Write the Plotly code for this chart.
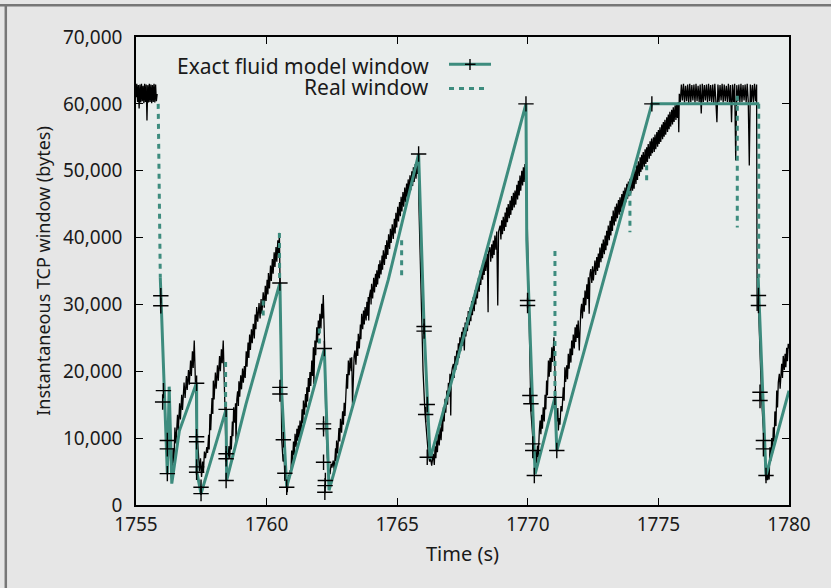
import plotly.graph_objects as go

# ---------------- data ----------------
# Measured (real) TCP window samples, black trace: (time s, bytes)
seg_start = [(1755.00, 61000), (1755.03, 63000), (1755.06, 60300), (1755.09, 62800), (1755.12, 59300),
             (1755.15, 62900), (1755.18, 60200), (1755.21, 63000), (1755.24, 60400), (1755.27, 62700),
             (1755.30, 60100), (1755.33, 63000), (1755.36, 60300), (1755.39, 62900), (1755.42, 57500),
             (1755.45, 62800), (1755.48, 60200), (1755.51, 63000), (1755.54, 60300), (1755.57, 62900),
             (1755.60, 60100), (1755.63, 62800), (1755.66, 60300), (1755.69, 63000), (1755.72, 60200),
             (1755.75, 62900), (1755.78, 60400), (1755.81, 61500)]

seg_1 = [(1756.28, 10000), (1756.36, 4000), (1756.42, 8500), (1756.45, 6200), (1756.49, 11600),
         (1756.53, 9200), (1756.59, 13500), (1756.62, 11200), (1756.67, 15200), (1756.70, 12800),
         (1756.75, 16500), (1756.78, 14200), (1756.84, 18300), (1756.88, 16000), (1756.93, 19300),
         (1756.96, 17200), (1757.01, 20200), (1757.04, 18000), (1757.09, 21600), (1757.12, 19300),
         (1757.16, 23000), (1757.19, 20500), (1757.23, 24600), (1757.28, 18100), (1757.32, 12000),
         (1757.39, 7700), (1757.43, 5000), (1757.47, 7000), (1757.51, 4200), (1757.55, 6500),
         (1757.58, 4800), (1757.62, 8000), (1757.66, 7000), (1757.71, 8650)]

seg_2 = [(1757.74, 7800), (1757.78, 10500), (1757.80, 8300), (1757.83, 13600), (1757.86, 11200),
         (1757.91, 16000), (1757.94, 13600), (1757.96, 18600), (1757.99, 15800), (1758.04, 19800),
         (1758.07, 17400), (1758.12, 20900), (1758.15, 18600), (1758.20, 22300), (1758.23, 20000),
         (1758.27, 23300), (1758.30, 21200), (1758.34, 24600), (1758.39, 16000), (1758.45, 7500),
         (1758.48, 6800)]

seg_3 = [(1758.52, 6900), (1758.56, 8800), (1758.59, 7000), (1758.62, 10300), (1758.65, 8300),
         (1758.69, 12500), (1758.71, 10300), (1758.74, 14600), (1758.78, 12300), (1758.81, 15200),
         (1758.83, 8900), (1758.86, 15800), (1758.89, 17000), (1758.92, 14800), (1758.94, 18500),
         (1758.97, 16200), (1759.01, 19400), (1759.04, 17300), (1759.08, 20400), (1759.11, 18300),
         (1759.15, 20800), (1759.18, 19000), (1759.22, 23000), (1759.25, 20700), (1759.29, 24300),
         (1759.32, 22000), (1759.35, 25500), (1759.38, 23200), (1759.42, 26300), (1759.45, 24200),
         (1759.49, 27100), (1759.53, 24900), (1759.56, 28500), (1759.59, 26300), (1759.62, 29600),
         (1759.66, 27400), (1759.71, 30200), (1759.75, 27900), (1759.79, 30800), (1759.82, 28600),
         (1759.87, 31800), (1759.91, 29500), (1759.95, 32800), (1759.98, 30500), (1760.02, 33700),
         (1760.05, 31500), (1760.07, 34700), (1760.11, 32400), (1760.15, 35800), (1760.18, 33500),
         (1760.22, 36800), (1760.25, 34600), (1760.29, 37800), (1760.32, 35600), (1760.36, 38600),
         (1760.39, 36400), (1760.43, 39600), (1760.46, 37400), (1760.49, 40700), (1760.53, 28000),
         (1760.58, 9700), (1760.63, 6500), (1760.67, 7600), (1760.70, 3800), (1760.74, 5200),
         (1760.79, 1900)]

seg_4 = [(1760.84, 4500), (1760.87, 3800), (1760.90, 5200), (1760.93, 4600), (1760.96, 8150),
         (1760.99, 6200), (1761.03, 9500), (1761.06, 7500), (1761.09, 10650), (1761.13, 8700),
         (1761.16, 11400), (1761.19, 9600), (1761.22, 11900), (1761.25, 10100), (1761.28, 12640),
         (1761.32, 10700), (1761.36, 14300), (1761.39, 12200), (1761.41, 15630), (1761.45, 13500),
         (1761.49, 16600), (1761.52, 14600), (1761.54, 17620), (1761.57, 15500), (1761.60, 19000),
         (1761.63, 16900), (1761.66, 19900), (1761.69, 17800), (1761.73, 21600), (1761.76, 19300),
         (1761.79, 23600), (1761.81, 18100), (1761.83, 23800), (1761.85, 24600), (1761.88, 22400),
         (1761.92, 26600), (1761.95, 24300), (1761.98, 27600), (1762.01, 25400), (1762.04, 28600),
         (1762.08, 26400), (1762.11, 30100), (1762.14, 27900), (1762.17, 31400), (1762.22, 24000),
         (1762.27, 12000), (1762.33, 7000), (1762.37, 5500), (1762.43, 4600), (1762.47, 6200),
         (1762.50, 5600)]

seg_5 = [(1762.55, 6650), (1762.59, 5200), (1762.64, 8500), (1762.66, 6600), (1762.68, 9650),
         (1762.72, 7700), (1762.77, 11500), (1762.80, 9500), (1762.83, 12900), (1762.87, 10800),
         (1762.91, 14000), (1762.94, 12000), (1762.97, 15300), (1763.00, 13300), (1763.03, 17500),
         (1763.07, 19600), (1763.10, 17400), (1763.13, 21600), (1763.16, 19400), (1763.20, 22000),
         (1763.24, 20000), (1763.26, 22100), (1763.29, 14900), (1763.32, 21800), (1763.35, 22300),
         (1763.38, 23100), (1763.42, 21000), (1763.46, 24500), (1763.49, 22300), (1763.51, 25600),
         (1763.55, 23400), (1763.59, 27000), (1763.61, 24800), (1763.64, 28600), (1763.68, 26300),
         (1763.71, 29100), (1763.74, 27000), (1763.77, 29600), (1763.81, 27600), (1763.84, 30400),
         (1763.87, 28300), (1763.89, 31100), (1763.91, 27600), (1763.94, 31300), (1763.98, 32200),
         (1764.00, 30000), (1764.02, 33100), (1764.06, 30900), (1764.10, 34000), (1764.13, 31800),
         (1764.17, 34600), (1764.20, 32600), (1764.22, 35100), (1764.25, 33000), (1764.29, 36000),
         (1764.32, 33900), (1764.34, 36600), (1764.38, 34500), (1764.42, 37300), (1764.44, 35200),
         (1764.47, 38100), (1764.51, 35900), (1764.55, 38900), (1764.58, 36800), (1764.60, 39600),
         (1764.64, 37400), (1764.67, 40500), (1764.71, 38300), (1764.74, 41300), (1764.77, 39200),
         (1764.81, 42000), (1764.85, 39800), (1764.89, 42800), (1764.92, 40600), (1764.95, 43700),
         (1764.98, 41500), (1765.02, 44600), (1765.05, 42400), (1765.09, 45300), (1765.12, 43200),
         (1765.15, 46100), (1765.18, 43900), (1765.22, 46800), (1765.25, 44600), (1765.29, 47500),
         (1765.32, 45300), (1765.36, 48100), (1765.39, 46000), (1765.42, 48700), (1765.45, 46600),
         (1765.49, 49300), (1765.52, 47100), (1765.56, 49900), (1765.59, 47700), (1765.62, 50500),
         (1765.65, 48300), (1765.69, 51000), (1765.72, 48800), (1765.76, 51600), (1765.78, 49500),
         (1765.81, 52100), (1765.83, 45000), (1765.91, 30000), (1765.99, 20000), (1766.06, 14000),
         (1766.14, 9500), (1766.19, 7660), (1766.24, 6500), (1766.27, 7200), (1766.32, 5900)]

seg_6 = [(1766.35, 6900), (1766.38, 7660), (1766.42, 6000), (1766.45, 8800), (1766.48, 7000),
         (1766.51, 9650), (1766.54, 7900), (1766.57, 10700), (1766.61, 8900), (1766.64, 11640),
         (1766.68, 9700), (1766.72, 13000), (1766.74, 11000), (1766.77, 14630), (1766.80, 12500),
         (1766.83, 15900), (1766.86, 13800), (1766.90, 17120), (1766.93, 15000), (1766.96, 18300),
         (1766.99, 16200), (1767.02, 19620), (1767.05, 13390), (1767.07, 19300), (1767.11, 20500),
         (1767.15, 21120), (1767.18, 19000), (1767.21, 22300), (1767.24, 20200), (1767.28, 23100),
         (1767.31, 21000), (1767.34, 24200), (1767.37, 22000), (1767.40, 25100), (1767.43, 23000),
         (1767.47, 25900), (1767.50, 23800), (1767.53, 26600), (1767.57, 23100), (1767.60, 27300),
         (1767.63, 25200), (1767.66, 28090), (1767.69, 26000), (1767.72, 29000), (1767.76, 26900),
         (1767.79, 29580), (1767.82, 27500), (1767.85, 30500), (1767.88, 28400), (1767.91, 31080),
         (1767.95, 29000), (1767.98, 32100), (1768.01, 30000), (1768.04, 33080), (1768.07, 30900),
         (1768.11, 34000), (1768.14, 31900), (1768.17, 35070), (1768.20, 32900), (1768.24, 35800),
         (1768.27, 33700), (1768.30, 36570), (1768.33, 34400), (1768.36, 37100), (1768.39, 35000),
         (1768.43, 37400), (1768.45, 37570), (1768.48, 28840), (1768.50, 37800), (1768.55, 38560),
         (1768.58, 36400), (1768.62, 39000), (1768.65, 36900), (1768.68, 39560), (1768.71, 37400),
         (1768.74, 40300), (1768.78, 38200), (1768.81, 40900), (1768.85, 29840), (1768.88, 40900),
         (1768.91, 41500), (1768.94, 41800), (1768.97, 39700), (1769.00, 42600), (1769.03, 40500),
         (1769.06, 43100), (1769.10, 41000), (1769.13, 43750), (1769.16, 41600), (1769.19, 44500),
         (1769.22, 42300), (1769.25, 45000), (1769.29, 42900), (1769.32, 45540), (1769.35, 43400),
         (1769.38, 46200), (1769.41, 44100), (1769.45, 46700), (1769.48, 44500), (1769.51, 47040),
         (1769.54, 44900), (1769.58, 47900), (1769.61, 45700), (1769.64, 48500), (1769.67, 46300),
         (1769.70, 49280), (1769.73, 47000), (1769.77, 50000), (1769.80, 47800), (1769.83, 50500),
         (1769.86, 48300), (1769.89, 51000), (1769.91, 48700), (1769.93, 51820), (1769.99, 40000),
         (1770.05, 25000), (1770.12, 14000), (1770.21, 9000), (1770.26, 6650), (1770.30, 8200),
         (1770.34, 6200)]

seg_7 = [(1770.37, 8900), (1770.40, 7200), (1770.44, 11000), (1770.47, 12640), (1770.50, 10600),
         (1770.53, 13500), (1770.56, 11400), (1770.59, 14630), (1770.63, 12500), (1770.66, 16500),
         (1770.69, 14300), (1770.72, 18620), (1770.75, 16400), (1770.79, 21600), (1770.82, 19200),
         (1770.85, 22000), (1770.88, 19900), (1770.92, 23600), (1770.95, 21400), (1770.97, 24200),
         (1771.00, 25100), (1771.04, 20000), (1771.08, 14000), (1771.12, 12500), (1771.15, 14500),
         (1771.17, 11140), (1771.20, 13000), (1771.23, 12000), (1771.27, 14800), (1771.31, 14000)]

seg_8 = [(1771.33, 16500), (1771.36, 17620), (1771.39, 15600), (1771.42, 20610), (1771.45, 18400),
         (1771.49, 20900), (1771.52, 18800), (1771.55, 22610), (1771.58, 20400), (1771.62, 23400),
         (1771.65, 21300), (1771.68, 24600), (1771.71, 22400), (1771.74, 25500), (1771.78, 23400),
         (1771.81, 26590), (1771.84, 24400), (1771.87, 27000), (1771.90, 25000), (1771.93, 27600),
         (1771.97, 23100), (1772.00, 28500), (1772.03, 29100), (1772.06, 30090), (1772.09, 27900),
         (1772.13, 31000), (1772.16, 28900), (1772.19, 32080), (1772.22, 29900), (1772.26, 33000),
         (1772.29, 30800), (1772.32, 34070), (1772.35, 28600), (1772.38, 34500), (1772.41, 35300),
         (1772.45, 33200), (1772.48, 35700), (1772.51, 33600), (1772.54, 36200), (1772.57, 36570),
         (1772.60, 34400), (1772.64, 37100), (1772.67, 35000), (1772.70, 37600), (1772.73, 35500),
         (1772.76, 38500), (1772.80, 36300), (1772.83, 39100), (1772.86, 36900), (1772.89, 39700),
         (1772.93, 37500), (1772.96, 40300), (1772.99, 38100), (1773.02, 41000), (1773.05, 38800),
         (1773.08, 41800), (1773.12, 39600), (1773.15, 42500), (1773.18, 40300), (1773.21, 43200),
         (1773.24, 41000), (1773.27, 44050), (1773.31, 41800), (1773.34, 44600), (1773.37, 42400),
         (1773.40, 45100), (1773.43, 42900), (1773.47, 45600), (1773.50, 43400), (1773.53, 46040),
         (1773.56, 43800), (1773.60, 46500), (1773.63, 44300), (1773.66, 47000), (1773.69, 44800),
         (1773.72, 47500), (1773.75, 45300), (1773.79, 48040), (1773.82, 45800), (1773.85, 48400),
         (1773.88, 46200), (1773.91, 48800), (1773.94, 46600), (1773.98, 49200), (1774.01, 47000),
         (1774.04, 49540), (1774.07, 47300), (1774.10, 50200), (1774.14, 48000), (1774.17, 50800),
         (1774.20, 48600), (1774.23, 51400), (1774.27, 49200), (1774.30, 52020), (1774.33, 49800),
         (1774.36, 52400), (1774.39, 50200), (1774.42, 52800), (1774.46, 50600), (1774.49, 53200),
         (1774.52, 51000), (1774.55, 53520), (1774.58, 51300), (1774.61, 54000), (1774.65, 51800),
         (1774.68, 54400), (1774.71, 52200), (1774.74, 54800), (1774.77, 52600), (1774.81, 55010),
         (1774.84, 52800), (1774.87, 55400), (1774.90, 53200), (1774.94, 55800), (1774.97, 53600),
         (1775.00, 56100), (1775.03, 54000), (1775.06, 56510), (1775.09, 54300), (1775.13, 56900),
         (1775.16, 54700), (1775.19, 57300), (1775.22, 55100), (1775.25, 57600), (1775.28, 55400),
         (1775.32, 58000), (1775.35, 55800), (1775.38, 58400), (1775.41, 56200), (1775.44, 58800),
         (1775.47, 56600), (1775.51, 59100), (1775.54, 56900), (1775.57, 59500), (1775.60, 57300),
         (1775.64, 59800), (1775.67, 57600), (1775.70, 60100), (1775.73, 57900), (1775.76, 60250),
         (1775.78, 55760), (1775.80, 61500)]

seg_plateau = [(1775.84, 60300), (1775.88, 62900), (1775.92, 60500), (1775.96, 63000), (1776.00, 60200),
               (1776.04, 62700), (1776.08, 60400), (1776.12, 62900), (1776.16, 60100), (1776.20, 63000),
               (1776.24, 60300), (1776.28, 62800), (1776.32, 60500), (1776.36, 62900), (1776.40, 60200),
               (1776.44, 63000), (1776.48, 60400), (1776.52, 62700), (1776.56, 60300), (1776.60, 62900),
               (1776.64, 58560), (1776.68, 63000), (1776.72, 60300), (1776.76, 62800), (1776.80, 60500),
               (1776.84, 62900), (1776.88, 60200), (1776.92, 63000), (1776.96, 60400), (1777.00, 62800),
               (1777.04, 60300), (1777.08, 62900), (1777.12, 60100), (1777.16, 63000), (1777.20, 60400),
               (1777.24, 57260), (1777.28, 62900), (1777.32, 60300), (1777.36, 62800), (1777.40, 60500),
               (1777.44, 63000), (1777.48, 60200), (1777.52, 62900), (1777.56, 60400), (1777.60, 62700),
               (1777.64, 60300), (1777.68, 63000), (1777.72, 60200), (1777.76, 62800), (1777.80, 57260),
               (1777.84, 62900), (1777.88, 60300), (1777.92, 63000), (1777.96, 51530), (1778.00, 62800),
               (1778.04, 60400), (1778.08, 62900), (1778.12, 60200), (1778.16, 63000), (1778.20, 60300),
               (1778.24, 62800), (1778.28, 60500), (1778.32, 62900), (1778.36, 60200), (1778.40, 63000),
               (1778.44, 60400), (1778.48, 50780), (1778.52, 62900), (1778.56, 60300), (1778.60, 62800),
               (1778.64, 60200), (1778.68, 63000), (1778.72, 60400), (1778.76, 62900)]

seg_end = [(1778.78, 29000), (1778.80, 34500), (1778.83, 30000), (1778.95, 16000), (1779.05, 9000),
           (1779.12, 3700), (1779.15, 4670), (1779.18, 3700), (1779.21, 5500), (1779.24, 3800),
           (1779.27, 8650), (1779.30, 6600), (1779.34, 10000), (1779.37, 7800), (1779.40, 11640),
           (1779.43, 9500), (1779.46, 14000), (1779.50, 11800), (1779.53, 17120), (1779.56, 14600),
           (1779.59, 18300), (1779.63, 19620), (1779.66, 17400), (1779.69, 20800), (1779.72, 21120),
           (1779.75, 19000), (1779.78, 22300), (1779.82, 20200), (1779.85, 22610), (1779.88, 20600),
           (1779.91, 23500), (1779.94, 21500), (1779.97, 24100), (1780.00, 23400)]

# Exact fluid model window (teal solid line)
model_t = [1755.93, 1756.20, 1756.27, 1756.37, 1756.66, 1757.32, 1757.33, 1757.49, 1758.45, 1758.47,
           1759.21, 1760.51, 1760.58, 1760.77, 1761.73, 1762.21, 1762.39, 1763.30, 1764.66, 1765.82,
           1766.03, 1766.26, 1767.02, 1769.93, 1769.96, 1770.28, 1771.04, 1771.11, 1774.75, 1778.86,
           None, 1778.82, 1779.12, 1780.00]
model_v = [34000, 4600, 17700, 3200, 11100, 18300, 4900, 1700, 14300, 3700,
           15100, 33200, 16700, 2700, 16400, 23300, 2200, 14800, 33700, 52500,
           26500, 6900, 17600, 60000, 39600, 4600, 16100, 8100, 60000, 60000,
           None, 34000, 4400, 17100]

# Sample points of the fluid model ("+" markers)
mark_t = [1755.95, 1755.95, 1756.05, 1756.02, 1756.20, 1756.20, 1756.20,
          1757.32, 1757.32, 1757.32, 1757.32, 1757.32, 1757.49, 1757.49,
          1758.45, 1758.45, 1758.45, 1758.45,
          1760.51, 1760.51, 1760.51, 1760.64, 1760.70, 1760.77,
          1762.21, 1762.18, 1762.18, 1762.18, 1762.25, 1762.24, 1762.23,
          1765.82, 1766.03, 1766.03, 1766.15, 1766.09, 1766.15,
          1769.93, 1769.99, 1769.99, 1770.08, 1770.12, 1770.19, 1770.19, 1770.25,
          1771.04, 1771.11, 1774.75,
          1778.83, 1778.83, 1778.89, 1778.89, 1779.02, 1779.02, 1779.12]
mark_v = [31300, 29800, 17100, 15400, 9650, 8400, 4700,
          18200, 10200, 9450, 5700, 4900, 2660, 1700,
          14300, 7660, 6910, 3660,
          33200, 17600, 16600, 9750, 4760, 2660,
          23400, 12140, 11400, 6400, 3660, 2900, 1900,
          52500, 26700, 26000, 15030, 13540, 7150,
          60000, 30590, 29840, 16380, 15140, 9150, 8150, 4410,
          16100, 8150, 60000,
          31330, 29840, 16870, 15630, 9650, 8400, 4410]

# Real window drops (teal dashed segments)
dash_t = [1755.85, 1755.93, None, 1758.43, 1758.43, None, 1759.87, 1759.87, None,
          1760.49, 1760.50, None, 1762.02, 1762.02, None, 1765.17, 1765.17, None,
          1771.04, 1771.04, None, 1773.91, 1773.91, None, 1774.55, 1774.55, None,
          1778.02, 1778.02, None, 1778.84, 1778.84]
dash_v = [60000, 34000, None, 21400, 14300, None, 30600, 28300, None,
          40700, 33200, None, 26400, 23600, None, 39600, 34000, None,
          38000, 16100, None, 47000, 40800, None, 50800, 48500, None,
          61200, 41500, None, 60000, 34000]

x_ticks = [1755, 1760, 1765, 1770, 1775, 1780]
y_ticks = [0, 10000, 20000, 30000, 40000, 50000, 60000, 70000]
y_tick_text = ["0", "10,000", "20,000", "30,000", "40,000", "50,000", "60,000", "70,000"]

legend_labels = ["Exact fluid model window", "Real window"]

# ---------------- build ----------------
segments = [seg_start, None, seg_1, seg_2, seg_3, seg_4, seg_5, seg_6, seg_7, seg_8, seg_plateau, seg_end]
real_t, real_v = [], []
for s in segments:
    if s is None:
        real_t.append(None)
        real_v.append(None)
        continue
    for t, v in s:
        real_t.append(t)
        real_v.append(v)

TEAL = "#3d8c7e"
FONT = "Noto Sans"
TXT = "#1a1a1a"

fig = go.Figure()
fig.add_trace(go.Scatter(x=real_t, y=real_v, mode="lines",
                         line=dict(color="black", width=1.3), showlegend=False))
fig.add_trace(go.Scatter(x=model_t, y=model_v, mode="lines",
                         line=dict(color=TEAL, width=3), showlegend=False))
fig.add_trace(go.Scatter(x=mark_t, y=mark_v, mode="markers",
                         marker=dict(symbol="cross-thin", size=11, color="black",
                                     line=dict(color="black", width=1.4)),
                         showlegend=False))
fig.add_trace(go.Scatter(x=dash_t, y=dash_v, mode="lines",
                         line=dict(color=TEAL, width=3, dash="5px,5px"), showlegend=False))

# plot area in pixels
L, R, T, B = 136, 789, 37, 505
W, H = R - L, B - T


def px(x):
    return (x - L) / W


def py(y):
    return (B - y) / H


shapes = [
    # outer frame lines (top / left)
    dict(type="line", xref="paper", yref="paper", x0=px(0), x1=px(831), y0=py(5.3), y1=py(5.3),
         line=dict(color="#777777", width=2.5)),
    dict(type="line", xref="paper", yref="paper", x0=px(5.8), x1=px(5.8), y0=py(5.3), y1=py(588),
         line=dict(color="#777777", width=2.5)),
    # legend samples
    dict(type="line", xref="paper", yref="paper", x0=px(449), x1=px(491), y0=py(64.3), y1=py(64.3),
         line=dict(color=TEAL, width=3)),
    dict(type="line", xref="paper", yref="paper", x0=px(470), x1=px(470), y0=py(59), y1=py(70),
         line=dict(color="black", width=1.4)),
    dict(type="line", xref="paper", yref="paper", x0=px(465), x1=px(475.5), y0=py(64.3), y1=py(64.3),
         line=dict(color="black", width=1.4)),
    dict(type="line", xref="paper", yref="paper", x0=px(449), x1=px(487), y0=py(88.5), y1=py(88.5),
         line=dict(color=TEAL, width=3, dash="5px,5px")),
]

annotations = [
    dict(text=legend_labels[0], xref="paper", yref="paper", x=px(431), y=py(65), xanchor="right",
         yanchor="middle", showarrow=False, height=21, font=dict(family=FONT, size=21, color=TXT)),
    dict(text=legend_labels[1], xref="paper", yref="paper", x=px(431), y=py(87), xanchor="right",
         yanchor="middle", showarrow=False, height=21, font=dict(family=FONT, size=21, color=TXT)),
]

fig.update_layout(
    width=831, height=588,
    margin=dict(l=L, r=831 - R, t=T, b=588 - B, pad=0),
    paper_bgcolor="#e6e6e6", plot_bgcolor="#e9edec",
    font=dict(family=FONT, size=19, color=TXT),
    shapes=shapes, annotations=annotations, showlegend=False,
)
fig.update_xaxes(range=[1755, 1780], tickvals=x_ticks, ticks="inside", ticklen=7, tickwidth=1.3,
                 tickcolor="black", showline=True, linecolor="black", linewidth=1.5, mirror="ticks",
                 showgrid=False, zeroline=False, ticklabelstandoff=1,
                 tickfont=dict(family=FONT, size=19, color=TXT),
                 title=dict(text="Time (s)", standoff=11, font=dict(family=FONT, size=20, color=TXT)))
fig.update_yaxes(range=[0, 70000], tickvals=y_ticks, ticktext=y_tick_text, ticks="inside", ticklen=7,
                 tickwidth=1.3, tickcolor="black", showline=True, linecolor="black", linewidth=1.5,
                 mirror="ticks", showgrid=False, zeroline=False, ticklabelstandoff=8,
                 tickfont=dict(family=FONT, size=19, color=TXT),
                 title=dict(text="Instantaneous TCP window (bytes)", standoff=8,
                            font=dict(family=FONT, size=18, color=TXT)))

fig.write_html("out.html", config={"displayModeBar": False},
               post_script="document.body.style.margin='0px';")
